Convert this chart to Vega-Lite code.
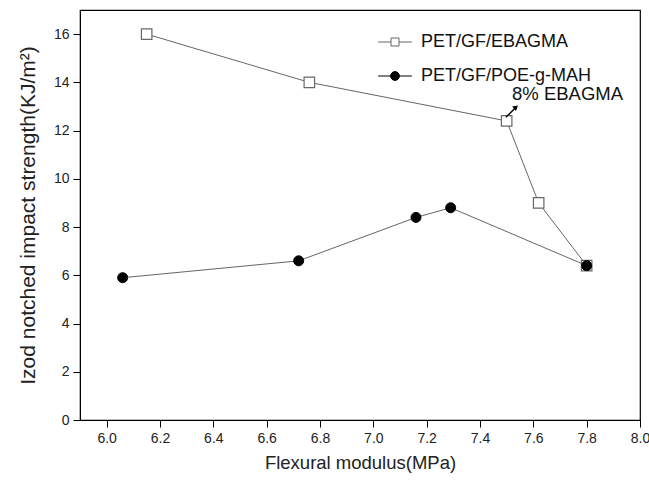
{
  "$schema": "https://vega.github.io/schema/vega-lite/v6.json",
  "width": 560,
  "height": 410,
  "autosize": {"type": "none"},
  "padding": {"left": 80, "top": 10, "right": 9, "bottom": 60},
  "background": "white",
  "config": {
    "font": "Liberation Sans",
    "view": {"stroke": "black", "strokeWidth": 1.2},
    "axis": {"grid": false, "domainColor": "black", "tickColor": "black", "labelColor": "#222", "titleColor": "#222", "labelFont": "Liberation Sans", "titleFont": "Liberation Sans", "titleFontWeight": "normal"}
  },
  "datasets": {
    "pts": [
      {"series": "PET/GF/EBAGMA", "x": 6.15, "y": 16.0},
      {"series": "PET/GF/EBAGMA", "x": 6.76, "y": 14.0},
      {"series": "PET/GF/EBAGMA", "x": 7.50, "y": 12.4},
      {"series": "PET/GF/EBAGMA", "x": 7.62, "y": 9.0},
      {"series": "PET/GF/EBAGMA", "x": 7.80, "y": 6.4},
      {"series": "PET/GF/POE-g-MAH", "x": 6.06, "y": 5.9},
      {"series": "PET/GF/POE-g-MAH", "x": 6.72, "y": 6.6},
      {"series": "PET/GF/POE-g-MAH", "x": 7.16, "y": 8.4},
      {"series": "PET/GF/POE-g-MAH", "x": 7.29, "y": 8.8},
      {"series": "PET/GF/POE-g-MAH", "x": 7.80, "y": 6.4}
    ],
    "note": [
      {"label": "8% EBAGMA", "x": 7.52, "y": 13.5, "ax": 7.497, "ay": 12.55, "ax2": 7.535, "ay2": 12.97}
    ]
  },
  "layer": [
    {
      "data": {"name": "pts"},
      "mark": {"type": "line", "color": "#666", "strokeWidth": 1},
      "encoding": {
        "x": {"field": "x", "type": "quantitative", "scale": {"domain": [5.9, 8.0], "nice": false, "zero": false},
          "axis": {"title": "Flexural modulus(MPa)", "values": [6.0,6.1,6.2,6.3,6.4,6.5,6.6,6.7,6.8,6.9,7.0,7.1,7.2,7.3,7.4,7.5,7.6,7.7,7.8,7.9,8.0],
            "labelExpr": "round(datum.value*10) % 2 == 0 ? format(datum.value, '.1f') : ''",
            "labelFontSize": 14, "titleFontSize": 18.5, "tickSize": 7, "labelPadding": 4, "titlePadding": 8, "labelFlush": false, "labelOverlap": false,
            "encode": {"ticks": {"update": {"y2": {"signal": "round(datum.value*10) % 2 == 0 ? 7 : 4"}}}}}},
        "y": {"field": "y", "type": "quantitative", "scale": {"domain": [0, 17], "nice": false},
          "axis": {"title": "Izod notched impact strength(KJ/m²)", "values": [0,1,2,3,4,5,6,7,8,9,10,11,12,13,14,15,16],
            "labelExpr": "datum.value % 2 == 0 ? datum.value : ''",
            "labelFontSize": 14, "titleFontSize": 21, "tickSize": 7, "labelPadding": 4, "titlePadding": 15, "labelOverlap": false,
            "encode": {"ticks": {"update": {"x2": {"signal": "datum.value % 2 == 0 ? -7 : -4"}}}}}},
        "detail": {"field": "series"}
      }
    },
    {
      "data": {"name": "pts"},
      "transform": [{"filter": "datum.series == 'PET/GF/EBAGMA'"}],
      "mark": {"type": "point", "shape": "square", "size": 110, "strokeWidth": 1.2, "opacity": 1, "fill": "white", "stroke": "#666", "filled": false},
      "encoding": {
        "x": {"field": "x", "type": "quantitative"},
        "y": {"field": "y", "type": "quantitative"}
      }
    },
    {
      "data": {"name": "pts"},
      "transform": [{"filter": "datum.series == 'PET/GF/POE-g-MAH'"}],
      "mark": {"type": "point", "shape": "circle", "size": 100, "strokeWidth": 1, "opacity": 1, "fill": "black", "stroke": "black", "filled": true},
      "encoding": {
        "x": {"field": "x", "type": "quantitative"},
        "y": {"field": "y", "type": "quantitative"}
      }
    },
    {
      "data": {"name": "pts"},
      "mark": {"type": "point", "opacity": 0, "strokeWidth": 1},
      "encoding": {
        "x": {"field": "x", "type": "quantitative"},
        "y": {"field": "y", "type": "quantitative"},
        "shape": {"field": "series", "type": "nominal", "scale": {"domain": ["PET/GF/EBAGMA", "PET/GF/POE-g-MAH"], "range": ["M-4.2,0H-1M1,0H4.2M-1,-1H1V1H-1Z", "M-4.2,0H-1M1,0H4.2M1.1,0A1.1,1.1 0 1,1 -1.1,0A1.1,1.1 0 1,1 1.1,0Z"]},
          "legend": {"title": null, "orient": "none", "legendX": 293, "legendY": 23, "labelFontSize": 18, "labelColor": "#111", "labelLimit": 400, "symbolSize": 64, "symbolOpacity": 1, "labelOffset": 17, "symbolOffset": 13, "rowPadding": 16, "symbolStrokeWidth": 1}},
        "fill": {"field": "series", "type": "nominal", "scale": {"domain": ["PET/GF/EBAGMA", "PET/GF/POE-g-MAH"], "range": ["white", "black"]}},
        "stroke": {"field": "series", "type": "nominal", "scale": {"domain": ["PET/GF/EBAGMA", "PET/GF/POE-g-MAH"], "range": ["#666", "black"]}}
      }
    },
    {
      "data": {"name": "note"},
      "mark": {"type": "rule", "color": "black", "strokeWidth": 1.5},
      "encoding": {
        "x": {"field": "ax", "type": "quantitative"},
        "y": {"field": "ay", "type": "quantitative"},
        "x2": {"field": "ax2"},
        "y2": {"field": "ay2"}
      }
    },
    {
      "data": {"name": "note"},
      "mark": {"type": "point", "shape": "triangle-up", "filled": true, "color": "black", "size": 35, "angle": 50, "opacity": 1},
      "encoding": {
        "x": {"field": "ax2", "type": "quantitative"},
        "y": {"field": "ay2", "type": "quantitative"}
      }
    },
    {
      "data": {"name": "note"},
      "mark": {"type": "text", "align": "left", "baseline": "middle", "fontSize": 18.5, "color": "#111"},
      "encoding": {
        "x": {"field": "x", "type": "quantitative"},
        "y": {"field": "y", "type": "quantitative"},
        "text": {"field": "label"}
      }
    }
  ]
}
